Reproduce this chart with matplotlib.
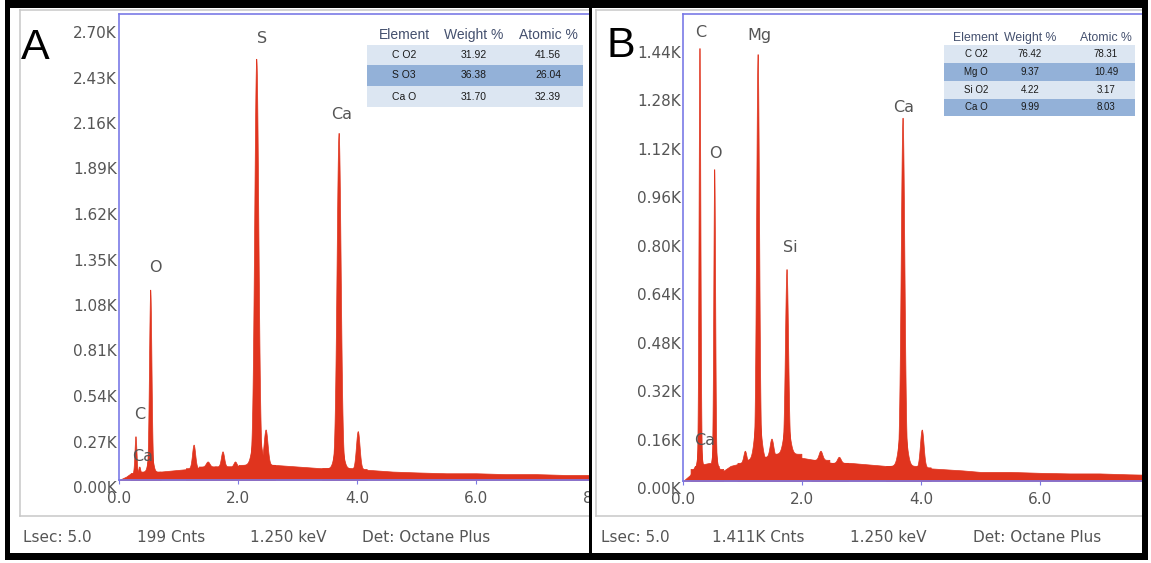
import numpy as np
import matplotlib
matplotlib.use("Agg")
import matplotlib.pyplot as plt
from matplotlib.patches import Rectangle
from matplotlib.lines import Line2D
from matplotlib.transforms import ScaledTranslation

# ---------------- spectrum A (counts in K) ----------------
bg_a_kev = [0.0, 0.12, 0.2, 0.4, 0.7, 1.0, 1.3, 1.6, 1.9, 2.2, 2.6, 3.0, 3.4,
            3.8, 4.2, 4.6, 5.0, 5.5, 6.0, 6.5, 7.0, 7.5, 8.0, 9.0, 10.0]
bg_a_cnt = [0.0, 0.02, 0.04, 0.04, 0.05, 0.06, 0.07, 0.08, 0.08, 0.09, 0.09, 0.08, 0.07,
            0.07, 0.06, 0.05, 0.045, 0.04, 0.04, 0.035, 0.035, 0.03, 0.03, 0.03, 0.025]
pk_a_kev = [0.277, 0.341, 0.525, 0.525, 1.254, 1.49, 1.74, 1.95, 2.307, 2.31, 2.464, 3.691, 3.69, 4.013]
pk_a_top = [0.26, 0.08, 1.13, 0.20, 0.21, 0.11, 0.17, 0.11, 2.50, 0.36, 0.30, 2.06, 0.32, 0.29]
pk_a_base = [0.04, 0.04, 0.05, 0.05, 0.07, 0.08, 0.08, 0.08, 0.09, 0.09, 0.09, 0.07, 0.07, 0.065]
pk_a_sigma = [0.016, 0.015, 0.02, 0.035, 0.026, 0.03, 0.026, 0.025, 0.034, 0.06, 0.032, 0.034, 0.055, 0.03]

# ---------------- spectrum B (counts in K) ----------------
bg_b_kev = [0.0, 0.12, 0.2, 0.45, 0.65, 0.8, 1.0, 1.2, 1.4, 1.6, 1.9, 2.2, 2.5, 2.8,
            3.1, 3.4, 3.6, 3.9, 4.3, 4.7, 5.0, 5.5, 6.0, 6.5, 7.0, 7.5, 8.0]
bg_b_cnt = [0.0, 0.02, 0.05, 0.06, 0.03, 0.05, 0.06, 0.07, 0.08, 0.09, 0.08, 0.07, 0.06, 0.06,
            0.055, 0.05, 0.05, 0.045, 0.04, 0.035, 0.03, 0.03, 0.027, 0.025, 0.025, 0.022, 0.02]
pk_b_kev = [0.277, 0.277, 0.525, 0.525, 1.04, 1.254, 1.254, 1.487, 1.74, 1.74, 2.31, 2.62, 3.69, 3.69, 4.013]
pk_b_top = [1.43, 0.14, 1.03, 0.14, 0.10, 1.41, 0.24, 0.14, 0.70, 0.20, 0.10, 0.08, 1.20, 0.22, 0.17]
pk_b_base = [0.05, 0.04, 0.05, 0.04, 0.06, 0.07, 0.07, 0.08, 0.09, 0.09, 0.07, 0.06, 0.05, 0.05, 0.045]
pk_b_sigma = [0.015, 0.03, 0.015, 0.03, 0.025, 0.024, 0.05, 0.03, 0.026, 0.05, 0.03, 0.03, 0.03, 0.055, 0.03]

# ---------------- axes ticks ----------------
xticks = [0, 2, 4, 6, 8]
xtick_labels = ["0.0", "2.0", "4.0", "6.0", "8.0"]
yticks_a = [0.0, 0.27, 0.54, 0.81, 1.08, 1.35, 1.62, 1.89, 2.16, 2.43, 2.70]
ytick_a_labels = ["0.00K", "0.27K", "0.54K", "0.81K", "1.08K", "1.35K",
                  "1.62K", "1.89K", "2.16K", "2.43K", "2.70K"]
yticks_b = [0.0, 0.16, 0.32, 0.48, 0.64, 0.80, 0.96, 1.12, 1.28, 1.44]
ytick_b_labels = ["0.00K", "0.16K", "0.32K", "0.48K", "0.64K", "0.80K",
                  "0.96K", "1.12K", "1.28K", "1.44K"]

# ---------------- element labels (keV, K) ----------------
lab_a_text = ["S", "Ca", "O", "C", "Ca"]
lab_a_kev = [2.40, 3.75, 0.61, 0.35, 0.40]
lab_a_cnt = [2.62, 2.17, 1.26, 0.39, 0.14]
lab_b_text = ["C", "Mg", "O", "Si", "Ca", "Ca"]
lab_b_kev = [0.29, 1.29, 0.55, 1.80, 3.70, 0.37]
lab_b_cnt = [1.48, 1.47, 1.08, 0.77, 1.235, 0.135]

# ---------------- quantification tables ----------------
table_header = ["Element", "Weight %", "Atomic %"]
elem_a = ["C O2", "S O3", "Ca O"]
wt_a = [31.92, 36.38, 31.70]
at_a = [41.56, 26.04, 32.39]
elem_b = ["C O2", "Mg O", "Si O2", "Ca O"]
wt_b = [76.42, 9.37, 4.22, 9.99]
at_b = [78.31, 10.49, 3.17, 8.03]

status_a = ["Lsec: 5.0", "199 Cnts", "1.250 keV", "Det: Octane Plus"]
status_b = ["Lsec: 5.0", "1.411K Cnts", "1.250 keV", "Det: Octane Plus"]

# ---------------- style ----------------
W, H, DPI = 1151, 563, 100
RED = "#e0341e"
BLUE = "#7a7ae6"
GRAY_TXT = "#555555"
FRAME = "#c8c8c8"
ROW_LIGHT = "#dce6f2"
ROW_DARK = "#93b1d8"
HEAD_TXT = "#44506e"
PX_PER_KEV = 59.5

fig = plt.figure(figsize=(W / DPI, H / DPI), dpi=DPI)
fig.patch.set_facecolor("white")


def fx(x):
    return x / W


def fy(y):
    return 1 - y / H


def rect(x0, y0, x1, y1, z, **kw):
    r = Rectangle((fx(x0), fy(y1)), (x1 - x0) / W, (y1 - y0) / H,
                  transform=fig.transFigure, zorder=z, **kw)
    fig.add_artist(r)


def hline(x0, x1, y, z, **kw):
    fig.add_artist(Line2D([fx(x0), fx(x1)], [fy(y), fy(y)],
                          transform=fig.transFigure, zorder=z, **kw))


def vline(x, y0, y1, z, **kw):
    fig.add_artist(Line2D([fx(x), fx(x)], [fy(y0), fy(y1)],
                          transform=fig.transFigure, zorder=z, **kw))


def ftext(x, y, s, z=6, **kw):
    fig.text(fx(x), fy(y), s, zorder=z, **kw)


def make_axes(x0, y0, x1, y1, z):
    ax = fig.add_axes([fx(x0), fy(y1), (x1 - x0) / W, (y1 - y0) / H], zorder=z)
    ax.set_facecolor("none")
    for side in ("left", "top", "bottom"):
        ax.spines[side].set_color(BLUE)
        ax.spines[side].set_linewidth(1.2)
        ax.spines[side].set_zorder(5)
    ax.spines["right"].set_visible(False)
    ax.tick_params(axis="x", direction="out", length=3, color=BLUE,
                   labelcolor=GRAY_TXT, labelsize=11, pad=5)
    ax.tick_params(axis="y", length=0, labelcolor=GRAY_TXT, labelsize=11, pad=1.5)
    return ax


def draw_spectrum(ax, bg_e, bg_c, pe, ptop, pbase, psig):
    ax.fill_between(bg_e, 0, bg_c, facecolor=RED, edgecolor=RED, lw=0.5, zorder=2)
    for c, top, base, s in zip(pe, ptop, pbase, psig):
        e = np.linspace(c - 5 * s, c + 5 * s, 161)
        cnt = base + (top - base) * np.exp(-0.5 * ((e - c) / s) ** 2)
        ax.fill_between(e, 0, cnt, facecolor=RED, edgecolor=RED, lw=0.5, zorder=2)


def set_ticks(ax, yt, ylab, x_px, y_px, ymax):
    ax.set_xticks(xticks, xtick_labels)
    ax.set_yticks(yt, ylab)
    # limits after the ticks so that the 8.0 tick does not stretch the range
    ax.set_xlim(0, x_px / PX_PER_KEV)
    ax.set_ylim(0, ymax)
    off = ScaledTranslation(0, -7 / DPI, fig.dpi_scale_trans)
    for lab in ax.get_yticklabels():
        lab.set_transform(lab.get_transform() + off)


# ---------------- panel A ----------------
ax_a = make_axes(119, 14, 700, 480, z=1)
draw_spectrum(ax_a, bg_a_kev, bg_a_cnt, pk_a_kev, pk_a_top, pk_a_base, pk_a_sigma)
set_ticks(ax_a, yticks_a, ytick_a_labels, 700 - 119, 466, (480 - 14) / (455 / 2.70))
for t, e, c in zip(lab_a_text, lab_a_kev, lab_a_cnt):
    ax_a.text(e, c, t, ha="center", va="center", fontsize=11.5, color="#555555", zorder=4)

# white area that holds panel B
rect(592, 0, W, H, 2, facecolor="white", edgecolor="none")

# ---------------- panel B ----------------
ax_b = make_axes(683, 14, 1142, 481, z=3)
draw_spectrum(ax_b, bg_b_kev, bg_b_cnt, pk_b_kev, pk_b_top, pk_b_base, pk_b_sigma)
set_ticks(ax_b, yticks_b, ytick_b_labels, 1142 - 683, 467, (481 - 14) / (436 / 1.44))
for t, e, c in zip(lab_b_text, lab_b_kev, lab_b_cnt):
    ax_b.text(e, c, t, ha="center", va="center", fontsize=11.5, color="#555555", zorder=4)

# ---------------- panel frames ----------------
for (x0, x1) in [(20, 589), (596, 1142)]:
    hline(x0, x1, 10, 4, color=FRAME, lw=1.1)
    hline(x0, x1, 516, 4, color=FRAME, lw=1.1)
    vline(x0, 10, 516, 4, color=FRAME, lw=1.1)

# ---------------- panel letters ----------------
ftext(21, 59, "A", fontsize=31, family="Liberation Sans", va="baseline", color="black")
ftext(606, 57, "B", fontsize=31, family="Liberation Sans", va="baseline", color="black")

# ---------------- tables ----------------
def draw_table(x0, x1, head_y, col_x, row_edges, elems, wts, ats, head_fs, row_fs):
    for name, hx in zip(table_header, col_x):
        ftext(hx, head_y, name, ha="center", va="center", fontsize=head_fs,
              family="Liberation Sans", color=HEAD_TXT)
    for i in range(len(elems)):
        y0, y1 = row_edges[i], row_edges[i + 1]
        rect(x0, y0, x1, y1, 5, facecolor=ROW_LIGHT if i % 2 == 0 else ROW_DARK,
             edgecolor="none")
        ym = (y0 + y1) / 2
        for s, cx in zip([elems[i], f"{wts[i]:.2f}", f"{ats[i]:.2f}"], col_x):
            ftext(cx, ym, s, ha="center", va="center", fontsize=row_fs,
                  family="Liberation Sans", color="#1a1a1a")


draw_table(367, 583, 35, [404, 474, 548], [45, 65, 86, 107],
           elem_a, wt_a, at_a, 10, 7.5)
draw_table(944, 1135, 38, [976, 1030, 1106], [45, 63, 81, 99, 116],
           elem_b, wt_b, at_b, 8.8, 7)

# ---------------- status bars ----------------
for s, x in zip(status_a, [23, 137, 250, 362]):
    ftext(x, 538, s, ha="left", va="center", fontsize=11, color=GRAY_TXT)
for s, x in zip(status_b, [601, 712, 850, 973]):
    ftext(x, 538, s, ha="left", va="center", fontsize=11, color=GRAY_TXT)

# ---------------- outer black frame and divider ----------------
rect(5, 0, 10, 560, 10, facecolor="black", edgecolor="none")
rect(1142, 0, 1148, 560, 10, facecolor="black", edgecolor="none")
rect(5, 0, 1148, 8, 10, facecolor="black", edgecolor="none")
rect(5, 553, 1148, 560, 10, facecolor="black", edgecolor="none")
rect(589, 0, 592, 560, 10, facecolor="black", edgecolor="none")

fig.savefig("out.png", dpi=DPI, facecolor="white")
